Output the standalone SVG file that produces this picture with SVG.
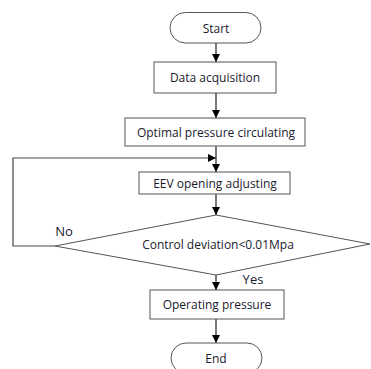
<svg xmlns="http://www.w3.org/2000/svg" width="371" height="369" viewBox="0 0 371 369">
<defs>
<marker id="ah" viewBox="0 0 10 10" refX="10" refY="5" markerWidth="8" markerHeight="8" markerUnits="userSpaceOnUse" orient="auto">
<path d="M0,0 L10,5 L0,10 z" fill="#000"/>
</marker>
<style>
.box{fill:#fff;stroke:#555;stroke-width:1}
.t{font-family:"Open Sans","Liberation Sans",sans-serif;font-size:12px;fill:#1a1a2e;text-anchor:middle;dominant-baseline:central}
.l{font-size:13px}
.c{fill:none;stroke:#222;stroke-width:1.2}
.fb{fill:none;stroke:#444;stroke-width:1.2}
</style>
</defs>
<rect width="371" height="369" fill="#fff"/>
<g id="connectors">
<line class="c" x1="216" y1="43" x2="216" y2="62" marker-end="url(#ah)"/>
<line class="c" x1="216" y1="93" x2="216" y2="118" marker-end="url(#ah)"/>
<line class="c" x1="216" y1="146" x2="216" y2="172" marker-end="url(#ah)"/>
<line class="c" x1="216" y1="194" x2="216" y2="215" marker-end="url(#ah)"/>
<polyline class="fb" points="55,246 13,246 13,158 216,158" marker-end="url(#ah)"/>
<line class="c" x1="216" y1="275" x2="216" y2="290" marker-end="url(#ah)"/>
<line class="c" x1="216" y1="319" x2="216" y2="343" marker-end="url(#ah)"/>
<text class="t l" x="64" y="231">No</text>
<text class="t l" x="253" y="279">Yes</text>
</g>
<g id="start">
<rect class="box" x="170" y="12.5" width="91" height="30.5" rx="15.25"/>
<text class="t" x="216" y="28">Start</text>
</g>
<g id="data">
<rect class="box" x="154" y="62" width="122" height="31"/>
<text class="t" x="215" y="77.5">Data acquisition</text>
</g>
<g id="optimal">
<rect class="box" x="125" y="118" width="180" height="28"/>
<text class="t" x="216" y="132">Optimal pressure circulating</text>
</g>
<g id="eev">
<rect class="box" x="139" y="172" width="151" height="22"/>
<text class="t" x="215" y="183">EEV opening adjusting</text>
</g>
<g id="decision">
<polygon class="box" points="216,215 370,244 216,275 55,246"/>
<text class="t" x="218" y="244">Control deviation&lt;0.01Mpa</text>
</g>
<g id="operating">
<rect class="box" x="150" y="290" width="134" height="29"/>
<text class="t" x="217" y="304.5">Operating pressure</text>
</g>
<g id="end">
<rect class="box" x="171" y="343" width="91" height="30" rx="15"/>
<text class="t" x="216" y="358">End</text>
</g>
</svg>
